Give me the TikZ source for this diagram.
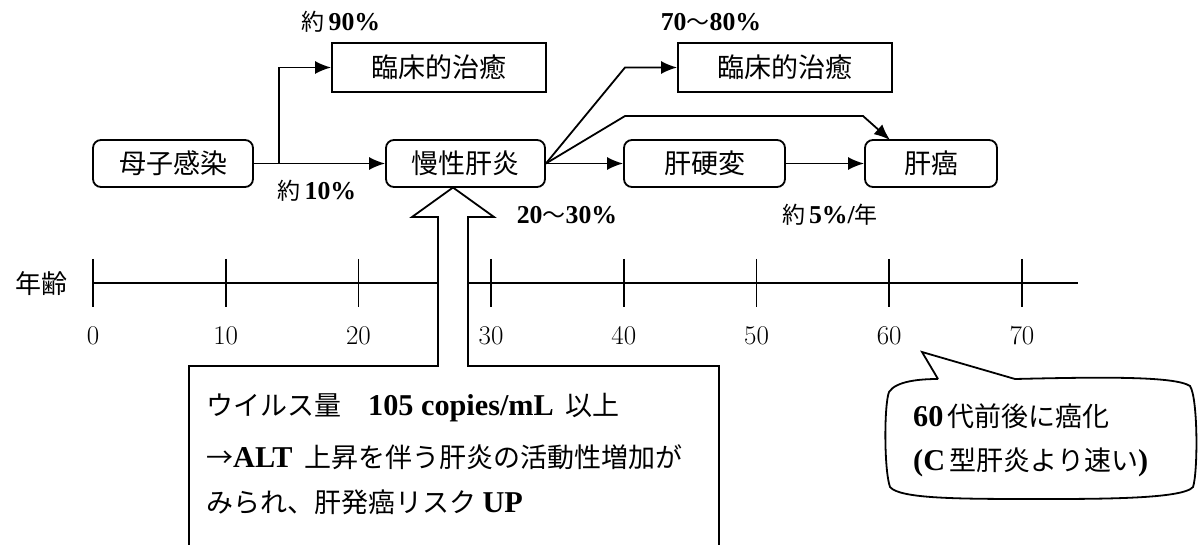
\documentclass[tikz,border=0pt]{standalone}
\usepackage{fontspec}
\usetikzlibrary{arrows.meta}
\newfontfamily\jp{Noto Sans CJK JP}
\newfontfamily\lsb{Liberation Serif}[Scale=1.12]
\newcommand{\B}[1]{{\lsb\bfseries #1}}
\begin{document}
\begin{tikzpicture}[x=1pt,y=-1pt,
  lw/.style={line width=1.8pt},
  rbox/.style={draw,lw,rounded corners=8pt,minimum height=47pt,inner sep=0pt,font=\jp\fontsize{27}{30}\selectfont},
  sbox/.style={draw,lw,minimum height=49pt,inner sep=0pt,font=\jp\fontsize{27}{30}\selectfont},
  arr/.style={lw,-{Latex[length=16pt,width=13pt]}},
  pct/.style={inner sep=0pt,font=\fontsize{23}{26}\selectfont},
  tick/.style={lw},
  axlab/.style={inner sep=0pt,font=\fontsize{27}{30}\selectfont},
  body/.style={inner sep=0pt,anchor=west,font=\fontsize{27}{30}\selectfont}]
\useasboundingbox (0,0) rectangle (1199,545);
% boxes
\node[rbox,minimum width=160pt] (boshi) at (173,163.5) {母子感染};
\node[rbox,minimum width=159pt] (mansei) at (465.5,163.5) {慢性肝炎};
\node[sbox,minimum width=214pt] (rin1) at (439,67.5) {臨床的治癒};
\node[sbox,minimum width=214pt] (rin2) at (785,67.5) {臨床的治癒};
\node[rbox,minimum width=161pt] (kohen) at (704.5,163.5) {肝硬変};
\node[rbox,minimum width=132pt] (kangan) at (931,163.5) {肝癌};
% labels
\node[pct] (l90) at (341,22) {\jp 約\,\B{90\%}};
\node[pct] (l10) at (317,191) {\jp 約\,\B{10\%}};
\node[pct] (l7080) at (711,22) {\B{70}{\jp 〜}\B{80\%}};
\node[pct] (l2030) at (567,215) {\B{20}{\jp 〜}\B{30\%}};
\node[pct] (l5) at (830,215) {\jp 約\,\B{5\%/}年};
% connectors
\coordinate (b1) at (279,163.5);
\coordinate (c1) at (625,67.5);
\coordinate (c2) at (625,116);
\coordinate (c3) at (863,116);
\coordinate (k1) at (890,140);
\draw[arr] (boshi.east) -- (mansei.west);
\draw[arr] (b1) |- (rin1.west);
\draw[arr] (mansei.east) -- (c1) -- (rin2.west);
\draw[arr] (mansei.east) -- (c2) -- (c3) -- (k1);
\draw[arr] (mansei.east) -- (kohen.west);
\draw[arr] (kohen.east) -- (kangan.west);
% axis
\node[inner sep=0pt,font=\jp\fontsize{26}{30}\selectfont] (nenrei) at (41,284) {年齢};
\coordinate (ax0) at (93,283);
\coordinate (ax1) at (1078,283);
\draw[lw] (ax0) -- (ax1);
\foreach \i in {0,...,7}{
  \draw[tick] (93+132.7*\i,259) -- (93+132.7*\i,307);
  \pgfmathtruncatemacro{\v}{10*\i}
  \node[axlab] (t\i) at (93+132.7*\i,336) {\v};
}
% callout with big arrow
\draw[lw,fill=white] (189,560) -- (189,366) -- (438,366) -- (438,217) -- (412,217) -- (453,187.5) -- (494,217) -- (468,217) -- (468,366) -- (719,366) -- (719,560);
\node[body] (line1) at (206,408) {\jp ウイルス量　\B{105 copies/mL}\ \ 以上};
\node[body] (line2) at (206,457) {\jp →\B{ALT}\ \ 上昇を伴う肝炎の活動性増加が};
\node[body] (line3) at (206,502) {\jp みられ、肝発癌リスク \B{UP}};
% bubble
\draw[lw,fill=white] (938,379) -- (922,352) -- (1015,379)
  .. controls (1100,377) and (1175,376) .. (1190,386)
  .. controls (1198,398) and (1198,472) .. (1193,487)
  .. controls (1183,499) and (1100,499) .. (1040,499)
  .. controls (960,499) and (900,499) .. (890,487)
  .. controls (884,470) and (884,405) .. (889,392)
  .. controls (896,381) and (920,379) .. (938,379);
\node[body] (bub1) at (913,416) {\B{60}\,\jp 代前後に癌化};
\node[body] (bub2) at (913,462) {\B{(C}\,\jp 型肝炎より速い\B{)}};
\end{tikzpicture}
\end{document}
